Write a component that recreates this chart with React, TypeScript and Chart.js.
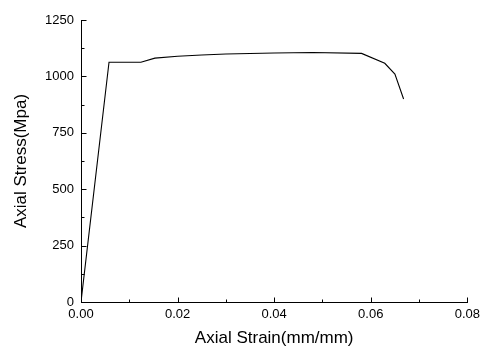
import React, { useEffect, useRef } from "react";
import { Chart, registerables } from "chart.js";

Chart.register(...registerables);

const strain = [0, 0.0058, 0.0124, 0.0153, 0.02, 0.025, 0.03, 0.04, 0.048, 0.0581, 0.0629, 0.065, 0.0668];
const stress = [0, 1063, 1063, 1081, 1089, 1095, 1099, 1104, 1106, 1102, 1058, 1010, 900];

const xTicks = [0, 0.02, 0.04, 0.06, 0.08];
const yTicks = [0, 250, 500, 750, 1000, 1250];

const xTitle = "Axial Strain(mm/mm)";
const yTitle = "Axial Stress(Mpa)";

const FONT = "'Liberation Sans', Arial, sans-serif";

const innerTicks = {
  id: "innerTicks",
  afterDraw(chart: any) {
    const { ctx, chartArea, scales } = chart;
    const xs = scales.x;
    const ys = scales.y;
    ctx.save();
    ctx.strokeStyle = "#000";
    ctx.lineWidth = 1;
    ctx.beginPath();
    const xMinor = xTicks.slice(0, -1).map((v, i) => (v + xTicks[i + 1]) / 2);
    const yMinor = yTicks.slice(0, -1).map((v, i) => (v + yTicks[i + 1]) / 2);
    const b = Math.round(chartArea.bottom) + 0.5;
    const l = Math.round(chartArea.left) + 0.5;
    xTicks.forEach((v) => {
      const px = Math.round(xs.getPixelForValue(v)) + 0.5;
      ctx.moveTo(px, b);
      ctx.lineTo(px, b - 5);
    });
    xMinor.forEach((v) => {
      const px = Math.round(xs.getPixelForValue(v)) + 0.5;
      ctx.moveTo(px, b);
      ctx.lineTo(px, b - 3);
    });
    yTicks.forEach((v) => {
      const py = Math.round(ys.getPixelForValue(v)) + 0.5;
      ctx.moveTo(l, py);
      ctx.lineTo(l + 5, py);
    });
    yMinor.forEach((v) => {
      const py = Math.round(ys.getPixelForValue(v)) + 0.5;
      ctx.moveTo(l, py);
      ctx.lineTo(l + 3, py);
    });
    ctx.stroke();
    ctx.restore();
  },
};

export default function App() {
  const ref = useRef<HTMLCanvasElement>(null);
  useEffect(() => {
    if (!ref.current) return;
    const chart = new Chart(ref.current, {
      type: "line",
      data: {
        datasets: [
          {
            data: strain.map((x, i) => ({ x, y: stress[i] })),
            borderColor: "#000",
            borderWidth: 1.1,
            pointRadius: 0,
            tension: 0,
            fill: false,
          },
        ],
      },
      plugins: [innerTicks],
      options: {
        animation: false,
        responsive: false,
        maintainAspectRatio: false,
        layout: { padding: { top: 20, right: 17, bottom: 0, left: 0 } },
        plugins: { legend: { display: false }, tooltip: { enabled: false } },
        scales: {
          x: {
            type: "linear",
            min: 0,
            max: 0.08,
            afterBuildTicks: (s: any) => {
              s.ticks = xTicks.map((v) => ({ value: v }));
            },
            afterFit: (s: any) => {
              s.height = 48;
            },
            grid: { display: false, drawTicks: false },
            border: { display: true, color: "#000", width: 1 },
            ticks: {
              color: "#000",
              font: { family: FONT, size: 13 },
              padding: 5,
              maxRotation: 0,
              callback: (v: any) => Number(v).toFixed(2),
            },
            title: {
              display: true,
              text: xTitle,
              color: "#000",
              font: { family: FONT, size: 17 },
              padding: { top: 0, bottom: 1 },
            },
          },
          y: {
            type: "linear",
            min: 0,
            max: 1250,
            afterBuildTicks: (s: any) => {
              s.ticks = yTicks.map((v) => ({ value: v }));
            },
            afterFit: (s: any) => {
              s.width = 81;
            },
            grid: { display: false, drawTicks: false },
            border: { display: true, color: "#000", width: 1 },
            ticks: {
              color: "#000",
              font: { family: FONT, size: 13 },
              padding: 7,
              callback: (v: any) => String(v),
            },
            title: {
              display: true,
              text: yTitle,
              color: "#000",
              font: { family: FONT, size: 17 },
              padding: { top: 11, bottom: 0 },
            },
          },
        },
      },
    });
    return () => chart.destroy();
  }, []);
  return (
    <div style={{ position: "fixed", left: 0, top: 0, width: 485, height: 350, background: "#fff" }}>
      <canvas ref={ref} width={485} height={350} style={{ width: 485, height: 350, display: "block" }} />
    </div>
  );
}
